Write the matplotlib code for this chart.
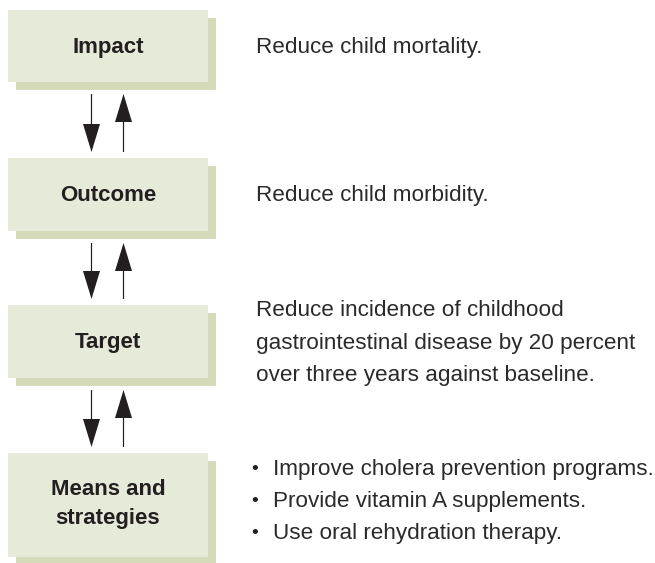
import matplotlib.pyplot as plt
from matplotlib.patches import Rectangle

# Results chain: box labels and the text beside each box
labels = ['Impact', 'Outcome', 'Target', 'Means and\nstrategies']
descriptions = [
    ['Reduce child mortality.'],
    ['Reduce child morbidity.'],
    ['Reduce incidence of childhood',
     'gastrointestinal disease by 20 percent',
     'over three years against baseline.'],
    ['Improve cholera prevention programs.',
     'Provide vitamin A supplements.',
     'Use oral rehydration therapy.'],
]
bulleted = [False, False, False, True]

# layout (pixels)
box_top = [10, 158, 305, 453]
box_h = [72, 73, 73, 104]
box_x, box_w = 8, 200
shadow = 8
line_gap = 32
fill = '#e6ead8'
shade = '#d5dbb8'
ink = '#231f20'
fs = 16.2

fig = plt.figure(figsize=(6.55, 5.63), dpi=100)
ax = fig.add_axes([0, 0, 1, 1])
ax.set_xlim(0, 655)
ax.set_ylim(563, 0)
ax.axis('off')

for i, lab in enumerate(labels):
    top, h = box_top[i], box_h[i]
    ax.add_patch(Rectangle((box_x + shadow, top + shadow), box_w, h, color=shade, lw=0))
    ax.add_patch(Rectangle((box_x, top), box_w, h, color=fill, lw=0))
    cy = top + h / 2
    ax.text(box_x + box_w / 2, cy + (-1 if i == 3 else 1), lab, ha='center', va='center',
            fontsize=16, fontweight='bold', color=ink, family='Liberation Sans',
            linespacing=1.45)

    lines = descriptions[i]
    n = len(lines)
    off = -4 if i == 3 else 1.5
    for k, line in enumerate(lines):
        y = cy + (k - (n - 1) / 2) * line_gap + off
        if bulleted[i]:
            ax.text(251, y, '\u2022', ha='left', va='center', fontsize=14,
                    color=ink, family='Liberation Sans')
            ax.text(273, y, line, ha='left', va='center', fontsize=fs,
                    color='#2a2a2a', family='Liberation Sans')
        else:
            ax.text(256, y, line, ha='left', va='center', fontsize=fs,
                    color='#2a2a2a', family='Liberation Sans')

    # arrows to next box
    if i < len(labels) - 1:
        y0 = top + h + shadow + 4
        y1 = box_top[i + 1] - 6
        ax.arrow(91.5, y0, 0, y1 - y0, width=1.2, head_width=17, head_length=28,
                 length_includes_head=True, color=ink, lw=0)
        ax.arrow(123.5, y1, 0, y0 - y1, width=1.2, head_width=17, head_length=28,
                 length_includes_head=True, color=ink, lw=0)

fig.savefig('out.png', dpi=100)
